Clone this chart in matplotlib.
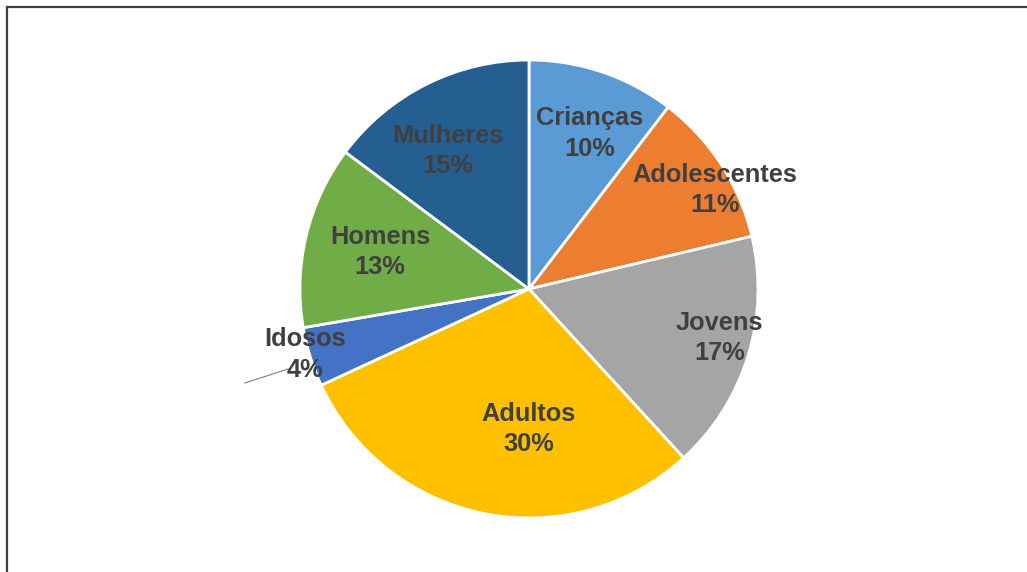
# pie chart of groups (percent share)

import numpy as np
import matplotlib.pyplot as plt
from matplotlib.lines import Line2D

groups = ['Crianças', 'Adolescentes', 'Jovens', 'Adultos', 'Idosos', 'Homens', 'Mulheres']
shares = [10.4, 10.9, 16.9, 29.9, 4.2, 12.9, 14.8]
colors = ['#5B9BD5', '#ED7D31', '#A5A5A5', '#FFC000', '#4472C4', '#70AD47', '#255E91']

# label placement (fraction of radius, angle shift in degrees)
lab_r = [0.73, 0.92, 0.86, 0.61, 1.02, 0.67, 0.70]
lab_shift = [-2.7, -5.0, 2.7, 11.3, -1.0, -0.4, 3.9]

W, H = 1027, 572
fig = plt.figure(figsize=(W / 100, H / 100), dpi=100)
ax = fig.add_axes([0, 0, 1, 1])

cx, cy, R = 529, H - 289, 229
wedges, _ = ax.pie(shares, colors=colors, startangle=90, counterclock=False,
                   center=(cx, cy), radius=R,
                   wedgeprops=dict(edgecolor='white', linewidth=2))
ax.set_xlim(0, W)
ax.set_ylim(0, H)
ax.set_aspect('equal')
ax.axis('off')

for w, name, v, rf, sh in zip(wedges, groups, shares, lab_r, lab_shift):
    mid = np.deg2rad((w.theta1 + w.theta2) / 2 + sh)
    x = cx + rf * R * np.cos(mid)
    y = cy + rf * R * np.sin(mid)
    ax.text(x, y, f'{name}\n{round(v)}%', ha='center', va='center', fontsize=18.3,
            fontweight='bold', color='#404040', family='Liberation Sans',
            linespacing=1.33)

# leader line for the small slice
ax.plot([245, 288], [H - 383, H - 369], color='#7f7f7f', lw=0.8)

# chart frame (top and left edges visible)
fig.add_artist(Line2D([7 / W, 1], [1 - 6.5 / H, 1 - 6.5 / H], color='#404040', lw=1.6,
                      transform=fig.transFigure))
fig.add_artist(Line2D([7 / W, 7 / W], [0, 1 - 6.5 / H], color='#404040', lw=1.6,
                      transform=fig.transFigure))

plt.savefig('out.png', dpi=100)
